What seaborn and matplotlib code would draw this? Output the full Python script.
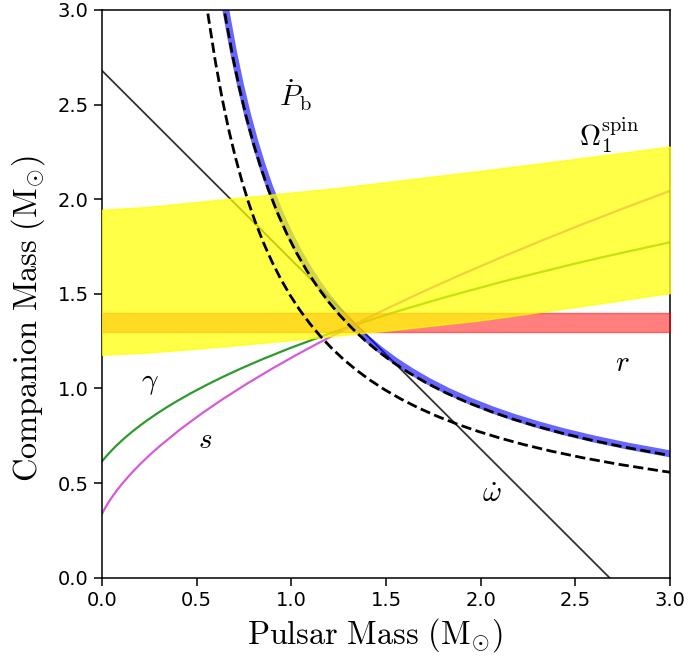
import matplotlib
matplotlib.use("Agg")
import matplotlib.pyplot as plt
import seaborn as sns

# ---------------- data ----------------
# periastron advance (omega-dot): straight line
omdot_mp = [0.0, 2.68]
omdot_mc = [2.68, 0.0]

# orbital decay (Pb-dot) measured band centre
pbdot_mp = [0.6368, 0.6563, 0.69482, 0.7329, 0.77074, 0.8087, 0.84678, 0.8854, 0.93428,
            0.9845, 1.03607, 1.0896, 1.14515, 1.2033, 1.26441, 1.3290, 1.39751, 1.4708,
            1.54931, 1.6344, 1.72679, 1.8284, 1.94044, 2.0658, 2.17745, 2.3015, 2.44066,
            2.5985, 2.77927, 2.9899, 3.1093]
pbdot_mc = [3.1093, 2.9899, 2.77927, 2.5985, 2.44066, 2.3015, 2.17745, 2.0658, 1.94044,
            1.8284, 1.72679, 1.6344, 1.54931, 1.4708, 1.39751, 1.3290, 1.26441, 1.2033,
            1.14515, 1.0896, 1.03607, 0.9845, 0.93428, 0.8854, 0.84678, 0.8087, 0.77074,
            0.7329, 0.69482, 0.6563, 0.6368]

# dashed curve 1 (along the Pb-dot band)
dash1_mp = [0.6323, 0.6517, 0.68990, 0.7277, 0.76528, 0.8029, 0.84079, 0.8791, 0.92767,
            0.9774, 1.02874, 1.0818, 1.13705, 1.1948, 1.25547, 1.3195, 1.38762, 1.4603,
            1.53836, 1.6227, 1.71457, 1.8153, 1.92671, 2.0512, 2.16204, 2.2853, 2.42340,
            2.5799, 2.75961, 2.9687, 3.0873]
dash1_mc = [3.0873, 2.9687, 2.75961, 2.5799, 2.42340, 2.2853, 2.16204, 2.0512, 1.92671,
            1.8153, 1.71457, 1.6227, 1.53836, 1.4603, 1.38762, 1.3195, 1.25547, 1.1948,
            1.13705, 1.0818, 1.02874, 0.9774, 0.92767, 0.8791, 0.84079, 0.8029, 0.76528,
            0.7277, 0.68990, 0.6517, 0.6323]

# dashed curve 2 (lower)
dash2_mp = [0.5450, 0.5633, 0.5991, 0.63418, 0.6689, 0.70347, 0.7381, 0.77288, 0.8080,
            0.85275, 0.8985, 0.94565, 0.9944, 1.04521, 1.0983, 1.15406, 1.2130, 1.27555,
            1.3424, 1.41410, 1.4917, 1.57609, 1.6687, 1.77109, 1.8854, 1.98742, 2.1008,
            2.22767, 2.3716, 2.53673, 2.7290, 2.9572, 3.0886]
dash2_mc = [3.0886, 2.9572, 2.7290, 2.53673, 2.3716, 2.22767, 2.1008, 1.98742, 1.8854,
            1.77109, 1.6687, 1.57609, 1.4917, 1.41410, 1.3424, 1.27555, 1.2130, 1.15406,
            1.0983, 1.04521, 0.9944, 0.94565, 0.8985, 0.85275, 0.8080, 0.77288, 0.7381,
            0.70347, 0.6689, 0.63418, 0.5991, 0.5633, 0.5450]

# Einstein delay (gamma)
gamma_mp = [0.0, 0.01623, 0.0344, 0.05477, 0.0776, 0.10322, 0.1320, 0.16437, 0.2008,
            0.24198, 0.2885, 0.34118, 0.4010, 0.46909, 0.5468, 0.63575, 0.7380, 0.85568,
            0.9920, 1.15053, 1.3358, 1.5535, 1.8107, 2.1170, 2.4844, 2.6519, 3.0291]
gamma_mc = [0.6135, 0.63314, 0.6538, 0.67552, 0.6984, 0.72252, 0.7480, 0.77487, 0.8033,
            0.83350, 0.8655, 0.89949, 0.9356, 0.97425, 1.0155, 1.05958, 1.1069, 1.15769,
            1.2125, 1.27164, 1.3358, 1.4056, 1.4814, 1.5648, 1.6563, 1.6955, 1.7790]

# Shapiro shape (s)
s_mp = [0.0, 0.00829, 0.0227, 0.04187, 0.0622, 0.08346, 0.1056, 0.15210, 0.2010, 0.25214,
        0.305, 0.41518, 0.5302, 0.64925, 0.7716, 0.89676, 1.0243, 1.15428, 1.3324,
        1.48674, 1.6907, 1.89787, 2.1076, 2.31963, 2.5339, 2.74993, 3.0043]
s_mc = [0.3359, 0.35171, 0.3773, 0.40813, 0.4378, 0.46654, 0.4944, 0.54790, 0.5990, 0.64786,
        0.695, 0.78482, 0.8698, 0.95075, 1.0284, 1.10324, 1.1757, 1.24572, 1.3376,
        1.41326, 1.5093, 1.60213, 1.6924, 1.78037, 1.8661, 1.95007, 2.0457]

# Shapiro range (r) band
r_lo, r_hi = 1.30, 1.40

# spin precession (Omega_1^spin) band
omega_x = [0.0, 0.25, 0.5, 0.75, 1.0, 1.25, 1.5, 2.0, 2.5, 3.0]
omega_lo = [1.178, 1.19, 1.21, 1.232, 1.255, 1.28, 1.305, 1.36, 1.43, 1.504]
omega_hi = [1.944, 1.96, 1.985, 2.01, 2.035, 2.06, 2.09, 2.15, 2.213, 2.278]

ticks = [0.0, 0.5, 1.0, 1.5, 2.0, 2.5, 3.0]

# ---------------- plot ----------------
sns.set_theme(style="ticks")
plt.rcParams["font.family"] = ["DejaVu Sans"]
plt.rcParams["mathtext.fontset"] = "cm"
plt.rcParams["axes.edgecolor"] = "black"
plt.rcParams["axes.linewidth"] = 1.1
plt.rcParams["text.color"] = "black"
plt.rcParams["axes.labelcolor"] = "black"

fig, ax = plt.subplots(figsize=(6.88, 6.61), dpi=100)
fig.subplots_adjust(left=0.148, right=0.974, top=0.985, bottom=0.126)

sns.lineplot(x=omdot_mp, y=omdot_mc, ax=ax, color="#333333", lw=1.3, zorder=2)
sns.lineplot(x=gamma_mp, y=gamma_mc, ax=ax, color="#2e9a2e", lw=1.6, zorder=2)
sns.lineplot(x=s_mp, y=s_mc, ax=ax, color="#d65bd6", lw=1.6, zorder=2)
sns.lineplot(x=pbdot_mp, y=pbdot_mc, ax=ax, color="blue", lw=5.0, alpha=0.6, zorder=2)

ax.fill_between([0, 3], [r_lo, r_lo], [r_hi, r_hi], color="red", alpha=0.5,
                lw=1.0, edgecolor="red", zorder=3)
ax.fill_between(omega_x, omega_lo, omega_hi, color="yellow", alpha=0.72,
                lw=1.0, edgecolor="yellow", zorder=4)

sns.lineplot(x=dash1_mp, y=dash1_mc, ax=ax, color="black", lw=2.0, ls="--", zorder=5)
sns.lineplot(x=dash2_mp, y=dash2_mc, ax=ax, color="black", lw=2.0, ls="--", zorder=5)

lab = dict(fontsize=21, ha="center", va="center", zorder=6, color="black")
ax.text(1.02, 2.55, r"$\dot{P}_\mathrm{b}$", **lab)
ax.text(2.68, 2.34, r"$\Omega_1^\mathrm{spin}$", **lab)
ax.text(2.75, 1.135, r"$r$", **lab)
ax.text(0.254, 1.03, r"$\gamma$", **lab)
ax.text(0.544, 0.73, r"$s$", **lab)
ax.text(2.06, 0.44, r"$\dot{\omega}$", **lab)

ax.set_xlim(0, 3)
ax.set_ylim(0, 3)
ax.set_xticks(ticks)
ax.set_yticks(ticks)
ax.tick_params(labelsize=14, length=6, width=1.1, color="black", labelcolor="black",
               direction="out")
ax.set_xlabel(r"$\mathrm{Pulsar\ Mass\ (M_{\odot})}$", fontsize=23.3)
ax.set_ylabel(r"$\mathrm{Companion\ Mass\ (M_{\odot})}$", fontsize=23.3)
ax.xaxis.set_label_coords(0.481, -0.068)
ax.yaxis.set_label_coords(-0.097, 0.456)
for sp in ax.spines.values():
    sp.set_visible(True)
    sp.set_color("black")

fig.savefig("out.png", dpi=100)
